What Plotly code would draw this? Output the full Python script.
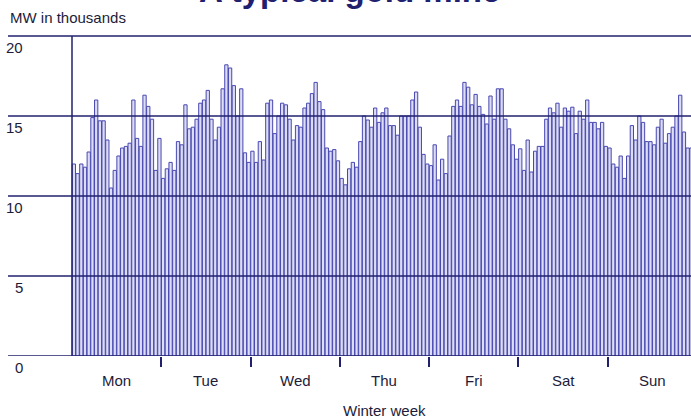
import plotly.graph_objects as go

# Hourly electricity demand of a gold mine over a winter week (MW in thousands)
days = ["Mon", "Tue", "Wed", "Thu", "Fri", "Sat", "Sun"]
mon = [12.0, 11.4, 12.0, 11.8, 12.75, 14.9, 16.0, 14.7, 14.7, 13.5, 10.5, 11.6,
       12.5, 13.0, 13.1, 13.3, 16.0, 13.6, 13.1, 16.3, 15.6, 14.8, 11.6, 13.6]
tue = [11.1, 11.7, 12.1, 11.6, 13.4, 13.2, 15.7, 14.2, 14.3, 14.8, 15.8, 16.0,
       16.6, 14.8, 13.5, 14.3, 16.7, 18.2, 18.0, 16.9, 15.0, 16.7, 12.7, 12.1]
wed = [12.8, 12.1, 13.4, 12.25, 15.8, 16.0, 13.9, 15.0, 15.8, 15.7, 14.8, 13.5,
       14.4, 14.3, 15.5, 15.8, 16.4, 17.1, 15.9, 15.4, 13.0, 12.8, 12.9, 12.2]
thu = [11.1, 10.7, 11.7, 12.1, 11.8, 13.4, 15.0, 14.75, 14.3, 15.5, 14.6, 15.2,
       15.5, 14.4, 14.4, 13.8, 15.0, 15.0, 15.0, 16.0, 16.5, 14.3, 12.6, 12.0]
fri = [11.9, 13.2, 11.0, 12.3, 11.4, 13.75, 15.6, 16.0, 15.6, 17.1, 16.8, 15.7,
       16.35, 15.6, 15.1, 14.5, 16.25, 14.8, 16.7, 16.7, 14.8, 14.2, 13.2, 12.3]
sat = [12.95, 11.6, 13.5, 11.5, 12.8, 13.1, 13.1, 14.8, 15.5, 15.2, 15.8, 14.3,
       15.5, 15.3, 15.55, 13.9, 15.3, 14.8, 16.0, 14.6, 14.6, 14.2, 14.6, 13.1]
sun = [13.0, 12.0, 11.8, 12.5, 11.1, 12.5, 14.4, 13.5, 15.0, 14.6, 13.4, 13.4,
       13.2, 14.3, 14.8, 13.3, 13.9, 14.3, 15.0, 16.3, 14.0, 13.0, 13.0, 13.5]
y_ticks = [0, 5, 10, 15, 20]

week = mon + tue + wed + thu + fri + sat + sun
hours = list(range(len(week)))
per_day = len(mon)

NAVY = "#20206e"
TEXT = "#1c1c3a"
FONT = "Liberation Sans"

# page and plot geometry
W, H = 691, 419
ml, mr, mt, mb = 8, 0, 32, 63
plot_w = W - ml - mr
plot_h = H - mt - mb
bar_px = 3.72          # width of one hourly bar
lead_px = 64           # space between plot edge and first bar
x_lo = hours[0] - 0.5 - lead_px / bar_px
x_hi = x_lo + plot_w / bar_px
y_hi = plot_h / 16.0

fig = go.Figure()
fig.add_trace(go.Bar(
    x=hours, y=week,
    marker=dict(color="#dcdcf4", line=dict(color="#4848b0", width=1)),
    hoverinfo="y",
))

shapes = []
for v in y_ticks:
    shapes.append(dict(type="line", xref="paper", yref="y", x0=0, x1=1, y0=v, y1=v,
                       line=dict(color=NAVY, width=1.6), layer="above"))
shapes.append(dict(type="line", xref="x", yref="y",
                   x0=hours[0] - 0.5, x1=hours[0] - 0.5, y0=0, y1=y_ticks[-1],
                   line=dict(color=NAVY, width=1.5), layer="above"))

annotations = []
for v in y_ticks:
    annotations.append(dict(xref="paper", yref="y", x=17 / plot_w, y=v, yshift=-11,
                            text=str(v), showarrow=False, xanchor="right", yanchor="middle",
                            font=dict(family=FONT, size=15, color=TEXT)))
for k, d in enumerate(days):
    annotations.append(dict(xref="x", yref="paper", x=k * per_day + (per_day - 1) / 2,
                            y=-25 / plot_h, text=d, showarrow=False,
                            xanchor="center", yanchor="middle",
                            font=dict(family=FONT, size=15, color=TEXT)))
annotations.append(dict(xref="x", yref="paper", x=(len(week) - 1) / 2, y=-54 / plot_h,
                        text="Winter week", showarrow=False, xanchor="center", yanchor="middle",
                        font=dict(family=FONT, size=15, color=TEXT)))
annotations.append(dict(xref="paper", yref="paper", x=0, y=1 + 15 / plot_h,
                        text="MW in thousands", showarrow=False, xanchor="left", yanchor="middle",
                        font=dict(family=FONT, size=15, color=TEXT)))
annotations.append(dict(xref="paper", yref="paper", x=0.5, y=1 + 21 / plot_h,
                        text="<b>A typical gold mine</b>", showarrow=False,
                        xanchor="center", yanchor="bottom",
                        font=dict(family=FONT, size=33, color=NAVY)))

fig.update_layout(
    width=W, height=H,
    margin=dict(l=ml, r=mr, t=mt, b=mb),
    paper_bgcolor="white", plot_bgcolor="white",
    bargap=0.12,
    showlegend=False,
    shapes=shapes,
    annotations=annotations,
    xaxis=dict(range=[x_lo, x_hi], showgrid=False, zeroline=False, showline=False,
               tickvals=[k * per_day - 0.5 for k in range(1, len(days))],
               ticktext=[""] * (len(days) - 1),
               ticks="outside", ticklen=10, tickwidth=1.5, tickcolor=NAVY),
    yaxis=dict(range=[0, y_hi], showgrid=False, zeroline=False, showline=False,
               showticklabels=False, ticks=""),
)

fig.write_html("out.html")
